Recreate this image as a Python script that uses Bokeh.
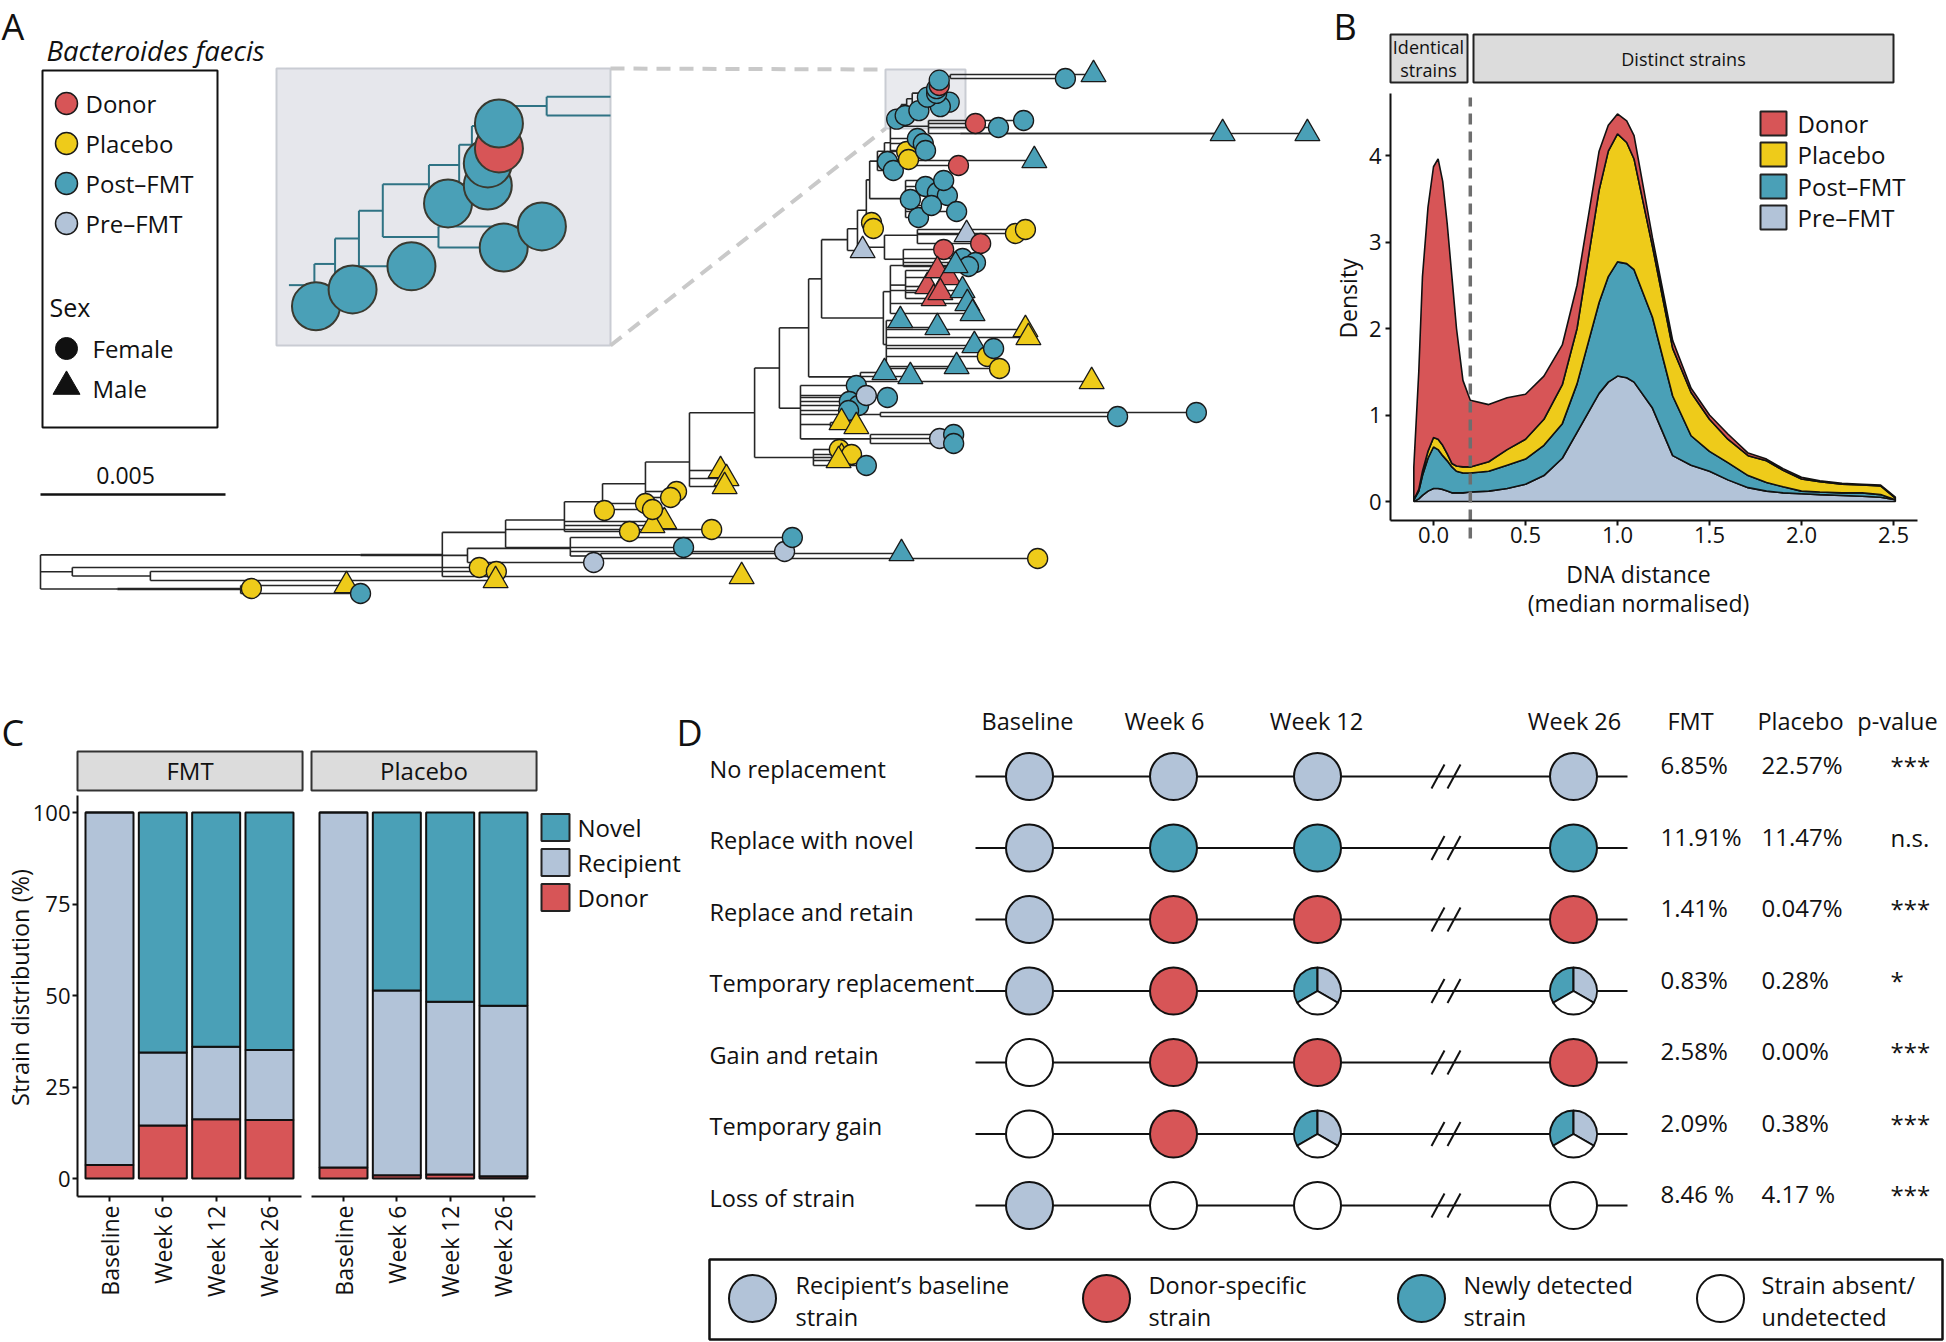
import math
import numpy as np
from bokeh.plotting import figure
from bokeh.layouts import row, column
from bokeh.models import Range1d, FixedTicker, PrintfTickFormatter, LinearAxis, ColumnDataSource
from bokeh.core.properties import value
from bokeh.embed import file_html
from bokeh.resources import INLINE

FONT = "Open Sans"
FV = value(FONT)
INK = "#111111"
C_DONOR, C_PLAC, C_POST, C_PRE = "#d75557", "#eecb1a", "#4aa0b7", "#b2c3d8"
GCOL = {"D": C_DONOR, "Y": C_PLAC, "T": C_POST, "P": C_PRE}

# ---------------- Panel A: phylogenetic tree of Bacteroides faecis strains ----------------
# internal nodes: distance from root (units of 1e-4) and parent index
int_dist = [0.0, 8.6, 29.7, 20.8, 54.1, 86.5, 115.4, 143.2, 151.4, 108.6,
            125.7, 141.6, 151.9, 163.5, 175.4, 193.0, 208.9, 199.7, 205.4, 227.0,
            224.3, 207.6, 221.6, 211.1, 218.1, 220.8, 223.2, 228.1, 237.0, 233.2,
            224.1, 233.8, 226.2, 228.1, 229.7, 240.0, 227.8, 229.7, 228.6, 231.3,
            232.6, 234.1, 235.6, 239.1, 238.5, 240.4, 241.2, 242.9, 245.9, 248.6,
            233.8, 213.5]
int_parent = [-1, 0, 1, 0, 3, 0, 5, 6, 7, 5,
              9, 10, 11, 12, 13, 14, 15, 15, 17, 18,
              18, 17, 21, 21, 23, 24, 25, 25, 27, 27,
              26, 30, 30, 32, 33, 34, 23, 36, 36, 34,
              39, 40, 41, 42, 42, 44, 45, 46, 47, 35,
              37, 18]
# tips: distance from root (1e-4), vertical layout position, parent node, group, sex
tip_dist = [118.6, 123.2, 123.0, 57.0, 82.7, 86.5, 149.5, 201.1, 203.2, 232.7,
            269.5, 189.5, 181.4, 173.8, 159.2, 168.6, 165.4, 152.4, 163.5, 165.4,
            171.9, 170.3, 183.8, 185.4, 184.9,
            215.9, 216.5, 219.2, 223.2, 215.7,
            220.5, 228.9, 218.6, 221.1, 218.4, 223.2,
            216.5, 220.5,
            291.1, 312.4,
            243.0, 246.8, 246.8,
            228.1, 235.1, 284.1,
            222.2,
            224.6, 225.1,
            250.3, 263.5, 266.2, 254.1,
            244.1, 249.2, 252.7, 250.8,
            237.3, 235.1, 239.2, 242.4, 245.1, 240.8, 247.6, 244.1,
            228.9, 230.5,
            234.1, 234.6,
            248.1, 268.6, 237.0, 238.6, 239.2,
            252.7, 258.9, 265.7,
            319.5, 342.4,
            231.4, 233.7, 237.4, 245.6, 243.2, 239.7, 242.2, 242.2, 242.9, 242.9,
            277.0, 284.6,
            239.7, 242.4, 245.4, 241.4, 243.2,
            247.3, 249.2, 250.5, 251.9,
            232.4, 242.4, 266.2, 267.0, 252.4, 247.6, 255.9, 259.2, 257.6]
tip_pos = [567, 571, 580, 588, 585, 593, 562, 551, 537, 553,
           558, 576, 529, 547, 531, 521, 525, 510, 503, 509,
           491, 497, 470, 478, 486,
           449, 457, 454, 465, 460,
           385, 397, 401, 405, 410, 395,
           422, 426,
           416, 412,
           438, 434, 443,
           372, 376, 381,
           250,
           222, 228,
           234, 233, 229, 243,
           249, 258, 262, 266,
           217, 199, 186, 192, 195, 205, 211, 180,
           161, 170,
           151, 159,
           165, 160, 138, 143, 150,
           123, 127, 120,
           133, 133,
           118.6, 115.0, 110.1, 101.6, 106.1, 96.7, 92.9, 88.2, 85.0, 79.7,
           78, 74,
           286, 270, 277, 298, 292,
           265, 290, 303, 313,
           320, 327, 329, 337, 345, 366, 356, 368, 348]
tip_parent = [1, 2, 2, 3, 4, 4, 6, 7, 7, 8,
              8, 9, 10, 10, 11, 11, 11, 12, 12, 12,
              13, 13, 14, 14, 14,
              16, 16, 16, 16, 16,
              18, 18, 18, 18, 18, 18,
              51, 51,
              19, 19,
              20, 20, 20,
              22, 22, 22,
              24,
              26, 26,
              28, 28, 28, 28,
              29, 29, 29, 29,
              31, 31, 31, 31, 31, 31, 31, 31,
              32, 32,
              33, 33,
              34, 34, 34, 34, 34,
              35, 35, 35,
              49, 49,
              39, 40, 41, 43, 43, 44, 45, 46, 47, 47,
              48, 48,
              50, 50, 50, 50, 50,
              37, 37, 37, 37,
              38, 38, 38, 38, 38, 38, 38, 38, 38]
tip_group = list("YYYYYTPPTT" "YYYTYYYYYY" "YYYYY" "YYYTY" "TTTTTP" "YY" "TT" "PTT" "TTY" "P"
                 "YY" "PYYD" "DTTT" "TTTTTTTT" "TT" "YY" "DTTTT" "DTT" "TT" "TTTTTTTTDT" "TT"
                 "DDDDD" "TTTT" "TTYYTTYYT")
tip_sex = list("FFMFMFFFFM" "FMFFFMMFFF" "FFMMM" "FMFFM" "FFFFFF" "MM" "FF" "FFF" "MMM" "M"
               "FF" "MFFF" "FFFF" "FFFFFFFF" "FF" "FF" "FMFFF" "FFF" "MM" "FFFFFFFFFF" "FM"
               "MMMMM" "MMMM" "MMMMMMFFF")
legend_groups = ["Donor", "Placebo", "Post\u2013FMT", "Pre\u2013FMT"]
scale_bar = 0.005

# ---------------- Panel B: density of DNA distance ----------------
dens_x = [-0.107, -0.08, -0.06, -0.03, 0.0, 0.025, 0.05, 0.075, 0.1, 0.125, 0.16, 0.2, 0.3, 0.4,
          0.5, 0.6, 0.7, 0.78, 0.9, 0.95, 1.0, 1.05, 1.09, 1.19, 1.3, 1.4, 1.5, 1.6, 1.71, 1.81,
          1.9, 2.0, 2.1, 2.22, 2.33, 2.43, 2.51]
dens_pre = [0.0, 0.03, 0.07, 0.12, 0.15, 0.15, 0.14, 0.12, 0.1, 0.1, 0.1, 0.11, 0.12, 0.15,
            0.2, 0.3, 0.5, 0.8, 1.25, 1.38, 1.45, 1.43, 1.38, 1.08, 0.53, 0.42, 0.35, 0.25, 0.16, 0.12,
            0.1, 0.09, 0.08, 0.07, 0.06, 0.05, 0.02]
dens_post = [0.02, 0.09, 0.23, 0.38, 0.48, 0.45, 0.39, 0.35, 0.3, 0.25, 0.23, 0.22, 0.23, 0.27,
             0.29, 0.35, 0.4, 0.56, 1.05, 1.22, 1.32, 1.32, 1.3, 1.05, 0.69, 0.34, 0.23, 0.2, 0.14, 0.1,
             0.07, 0.03, 0.03, 0.03, 0.04, 0.03, 0.0]
dens_plac = [0.0, 0.02, 0.05, 0.08, 0.11, 0.12, 0.12, 0.08, 0.04, 0.06, 0.07, 0.07, 0.11, 0.18,
             0.23, 0.3, 0.45, 0.64, 1.3, 1.45, 1.48, 1.4, 1.28, 0.82, 0.55, 0.5, 0.37, 0.27, 0.23, 0.25,
             0.19, 0.14, 0.12, 0.1, 0.09, 0.1, 0.02]
dens_donor = [0.38, 1.36, 2.25, 2.82, 3.13, 3.24, 3.05, 2.65, 2.16, 1.59, 1.0, 0.77, 0.66, 0.6,
              0.52, 0.5, 0.46, 0.5, 0.45, 0.3, 0.23, 0.25, 0.27, 0.1, 0.09, 0.05, 0.05, 0.06, 0.03, 0.02,
              0.02, 0.02, 0.01, 0.01, 0.01, 0.01, 0.01]
identity_threshold = 0.2
b_xticks = [0.0, 0.5, 1.0, 1.5, 2.0, 2.5]
b_yticks = [0, 1, 2, 3, 4]

# ---------------- Panel C: strain distribution ----------------
c_times = ["Baseline", "Week 6", "Week 12", "Week 26"]
fmt_donor = [3.7, 14.5, 16.2, 16.0]
fmt_recip = [96.3, 19.9, 19.8, 19.1]
fmt_novel = [0.0, 65.6, 64.0, 64.9]
pla_donor = [3.0, 0.9, 1.1, 0.6]
pla_recip = [97.0, 50.5, 47.2, 46.6]
pla_novel = [0.0, 48.6, 51.7, 52.8]
c_yticks = [0, 25, 50, 75, 100]

# ---------------- Panel D: strain trajectories ----------------
d_times = ["Baseline", "Week 6", "Week 12", "Week 26"]
d_rows = ["No replacement", "Replace with novel", "Replace and retain", "Temporary replacement",
          "Gain and retain", "Temporary gain", "Loss of strain"]
d_states = [["R", "R", "R", "R"], ["R", "N", "N", "N"], ["R", "D", "D", "D"], ["R", "D", "M", "M"],
            ["A", "D", "D", "D"], ["A", "D", "M", "M"], ["R", "A", "A", "A"]]
d_fmt = ["6.85%", "11.91%", "1.41%", "0.83%", "2.58%", "2.09%", "8.46 %"]
d_plac = ["22.57%", "11.47%", "0.047%", "0.28%", "0.00%", "0.38%", "4.17 %"]
d_pval = ["***", "n.s.", "***", "*", "***", "***", "***"]
d_legend = [("Recipient\u2019s baseline", "strain"), ("Donor-specific", "strain"),
            ("Newly detected", "strain"), ("Strain absent/", "undetected")]
SCOL = {"R": C_PRE, "D": C_DONOR, "N": C_POST, "A": "white"}


def base_fig(w, h, xr, yr):
    p = figure(width=w, height=h, x_range=xr, y_range=yr, toolbar_location=None,
               output_backend="svg", x_axis_location=None, y_axis_location=None,
               min_border_left=0, min_border_right=0, min_border_top=0, min_border_bottom=0)
    p.outline_line_color = None
    p.background_fill_color = "white"
    p.border_fill_color = "white"
    p.grid.visible = False
    try:
        p.frame_align = False
    except Exception:
        pass
    return p


def style_axis(ax, size="22px"):
    ax.axis_line_width = 2
    ax.axis_line_color = INK
    ax.major_tick_line_width = 2
    ax.major_tick_line_color = INK
    ax.major_tick_out = 5
    ax.major_tick_in = 0
    ax.minor_tick_line_color = None
    ax.major_label_text_font = FONT
    ax.major_label_text_font_size = size
    ax.major_label_text_color = INK


def mk_axis(fixed, bounds, ticks, size):
    ax = LinearAxis(fixed_location=fixed, bounds=bounds, ticker=FixedTicker(ticks=ticks))
    style_axis(ax, size)
    return ax


def txt(p, x, y, s, size="24px", align="left", baseline="middle", style="normal", color=INK, angle=0):
    p.text(x=x if isinstance(x, list) else [x], y=y if isinstance(y, list) else [y],
           text=s if isinstance(s, list) else [s], text_font=FV, text_font_size=size,
           text_align=align, text_baseline=baseline, text_font_style=style, text_color=color,
           angle=angle)


# =============================== Panel A ===============================
S = 37000.0  # px per unit of distance


def AX(px):
    return (px - 40) / S


pA = base_fig(1326, 690, Range1d(AX(0), AX(1326)), Range1d(690, 0))

n_int = len(int_dist)
ch_int = [[] for _ in range(n_int)]
ch_tip = [[] for _ in range(n_int)]
for i, par in enumerate(int_parent):
    if par >= 0:
        ch_int[par].append(i)
for j, par in enumerate(tip_parent):
    ch_tip[par].append(j)
node_y = [None] * n_int


def ny(i):
    if node_y[i] is None:
        ys = [ny(c) for c in ch_int[i]] + [tip_pos[t] for t in ch_tip[i]]
        node_y[i] = sum(ys) / len(ys)
    return node_y[i]


for i in range(n_int):
    ny(i)

SC = 1e-4
hx0, hx1, hy = [], [], []
for i, par in enumerate(int_parent):
    if par >= 0:
        hx0.append(int_dist[par] * SC); hx1.append(int_dist[i] * SC); hy.append(node_y[i])
for j, par in enumerate(tip_parent):
    hx0.append(int_dist[par] * SC); hx1.append(tip_dist[j] * SC); hy.append(tip_pos[j])
vx, vy0, vy1 = [], [], []
for i in range(n_int):
    ys = [node_y[c] for c in ch_int[i]] + [tip_pos[t] for t in ch_tip[i]]
    vx.append(int_dist[i] * SC); vy0.append(min(ys)); vy1.append(max(ys))

# inset (zoom of the boxed clade)
BOX = (276, 610, 68, 345)
ZB = (885, 965, 69, 128)


def to_px(d):
    return 40 + d * SC * S


def ins_x(px):
    return BOX[0] + (px - 887) * 4.3


def ins_y(y):
    return BOX[2] + (y - 68) * 4.7


pA.quad(left=AX(BOX[0]), right=AX(BOX[1]), top=BOX[2], bottom=BOX[3], fill_color="#e6e7ec",
        line_color="#c9ccd3", line_width=2)
pA.segment(x0=[AX(BOX[1]), AX(BOX[1])], y0=[BOX[2], BOX[3]], x1=[AX(ZB[0]), AX(ZB[0])],
           y1=[ZB[2], ZB[3]], line_color="#c9c9c9", line_width=4, line_dash="14 9")
pA.quad(left=AX(ZB[0]), right=AX(ZB[1]), top=ZB[2], bottom=ZB[3], fill_color="#e3e5ea",
        fill_alpha=0.8, line_color="#c9ccd3", line_width=2)


def desc(i):
    nn, tt = [i], list(ch_tip[i])
    for c in ch_int[i]:
        a, b = desc(c)
        nn += a
        tt += b
    return nn, tt


sub_n, sub_t = desc(39)
ix0, ix1, iy = [], [], []
ivx, ivy0, ivy1 = [], [], []


def add_h(x0, x1, y):
    x0, x1, y = ins_x(x0), ins_x(x1), ins_y(y)
    if BOX[2] <= y <= BOX[3]:
        a, b = max(x0, BOX[0]), min(x1, BOX[1])
        if b > a:
            ix0.append(AX(a)); ix1.append(AX(b)); iy.append(y)


for n in sub_n:
    add_h(to_px(int_dist[int_parent[n]]), to_px(int_dist[n]), node_y[n])
    ys = [node_y[c] for c in ch_int[n]] + [tip_pos[t] for t in ch_tip[n]]
    xx = ins_x(to_px(int_dist[n]))
    if BOX[0] <= xx <= BOX[1]:
        ivx.append(AX(xx)); ivy0.append(max(ins_y(min(ys)), BOX[2])); ivy1.append(min(ins_y(max(ys)), BOX[3]))
for t in sub_t:
    add_h(to_px(int_dist[tip_parent[t]]), to_px(tip_dist[t]), tip_pos[t])
pA.segment(x0=ix0, y0=iy, x1=ix1, y1=iy, line_color="#2f7384", line_width=2)
pA.segment(x0=ivx, y0=ivy0, x1=ivx, y1=ivy1, line_color="#2f7384", line_width=2)
itx, ity, itc = [], [], []
for t in sorted(sub_t, key=lambda k: -tip_pos[k]):
    xx, yy = ins_x(to_px(tip_dist[t])), ins_y(tip_pos[t])
    if BOX[0] + 20 <= xx <= BOX[1] - 20 and BOX[2] + 20 <= yy <= BOX[3] - 20:
        itx.append(AX(xx)); ity.append(yy); itc.append(GCOL[tip_group[t]])
pA.scatter(itx, ity, marker="circle", size=48, fill_color=itc, line_color="#3a3a30", line_width=2)

# main tree
pA.segment(x0=hx0, y0=hy, x1=hx1, y1=hy, line_color="#262626", line_width=1.6)
pA.segment(x0=vx, y0=vy0, x1=vx, y1=vy1, line_color="#262626", line_width=1.6)
tsrc = ColumnDataSource(dict(
    x=[d * SC for d in tip_dist], y=tip_pos,
    marker=["circle" if s == "F" else "triangle" for s in tip_sex],
    size=[20 if s == "F" else 25 for s in tip_sex],
    color=[GCOL[g] for g in tip_group]))
pA.scatter(x="x", y="y", marker="marker", size="size", fill_color="color", line_color="#1a1a1a",
           line_width=1.3, source=tsrc)

# legend A
txt(pA, AX(1), 1, "A", size="36px", baseline="top")
txt(pA, AX(46), 50, "Bacteroides faecis", size="27.5px", style="italic")
pA.quad(left=AX(42), right=AX(217), top=70, bottom=427, fill_color=None, line_color=INK, line_width=2)
leg_y = [103, 143, 183, 223]
pA.scatter([AX(66)] * 4, leg_y, marker="circle", size=22,
           fill_color=[C_DONOR, C_PLAC, C_POST, C_PRE], line_color="#1a1a1a", line_width=1.5)
txt(pA, [AX(85)] * 4, leg_y, legend_groups, size="24px")
txt(pA, AX(49), 306, "Sex", size="25px")
pA.scatter([AX(66), AX(66)], [348, 386], marker=["circle", "triangle"], size=[22, 27],
           fill_color=INK, line_color=INK)
txt(pA, [AX(92), AX(92)], [348, 388], ["Female", "Male"], size="24px")
pA.segment(x0=[0.0], y0=[494], x1=[scale_bar], y1=[494], line_color=INK, line_width=2.5)
txt(pA, scale_bar * 0.46, 475, "0.005", size="23px", align="center")

# =============================== Panel B ===============================
B0, BPX, BY0, BPY = 1433, 184.0, 501, 86.5   # data origin and scale of panel B in the page


def bxd(px):
    return (px - B0) / BPX


def byd(py):
    return (BY0 - py) / BPY


pB = base_fig(620, 690, Range1d(bxd(1326), bxd(1946)), Range1d(byd(690), byd(0)))
fx0, fx1, fy0, fy1 = bxd(1390), bxd(1917), byd(520), byd(93)   # panel frame
base = np.zeros(len(dens_x))
xs = np.array(dens_x)
for dens, col in [(dens_pre, C_PRE), (dens_post, C_POST), (dens_plac, C_PLAC), (dens_donor, C_DONOR)]:
    top = base + np.array(dens)
    pB.patch(np.concatenate([xs, xs[::-1]]), np.concatenate([top, base[::-1]]),
             fill_color=col, line_color=INK, line_width=1.6)
    base = top
pB.segment(x0=[identity_threshold], y0=[byd(538)], x1=[identity_threshold], y1=[byd(97)],
           line_color="#6e6e6e", line_width=3.5, line_dash="11 7")
# strips
pB.quad(left=[fx0, bxd(1473)], right=[bxd(1467), bxd(1893)], top=[byd(34)] * 2, bottom=[byd(82)] * 2,
        fill_color="#dcdcdc", line_color="#222222", line_width=2)
txt(pB, [bxd(1428)] * 2, [byd(46), byd(69)], ["Identical", "strains"], size="18px", align="center")
txt(pB, bxd(1683), byd(58), "Distinct strains", size="18px", align="center")
# legend
leg_by = [byd(v) for v in (123, 154, 186, 217)]
hh = 12 / BPY
pB.quad(left=[bxd(1760)] * 4, right=[bxd(1786)] * 4, top=[v + hh for v in leg_by],
        bottom=[v - hh for v in leg_by], fill_color=[C_DONOR, C_PLAC, C_POST, C_PRE],
        line_color="#222222", line_width=2)
txt(pB, [bxd(1797)] * 4, leg_by, legend_groups, size="24px")
axb = mk_axis(fy0, (fx0, fx1), b_xticks, "22px")
axb.formatter = PrintfTickFormatter(format="%.1f")
axb.major_label_standoff = 1
pB.add_layout(axb, "below")
ayb = mk_axis(fx0, (fy0, fy1), b_yticks, "22px")
ayb.major_label_standoff = 4
pB.add_layout(ayb, "left")
txt(pB, bxd(1347), byd(298), "Density", size="23px", align="center", angle=math.pi / 2)
txt(pB, bxd(1638), byd(573), "DNA distance", size="23px", align="center")
txt(pB, bxd(1638), byd(602), "(median normalised)", size="23px", align="center")
txt(pB, bxd(1333), byd(1), "B", size="36px", baseline="top")

# =============================== Panel C ===============================
CPX, CY0, CPY = 53.33, 1178, 3.66


def cyd(py):
    return (CY0 - py) / CPY


def c_panel(x_left, x_right, bar1_px, donor, recip, novel, strip, with_y):
    def cxd(px):
        return 1 + (px - bar1_px) / CPX
    p = base_fig(x_right - x_left, 652, Range1d(cxd(x_left), cxd(x_right)), Range1d(cyd(1342), cyd(690)))
    xs_ = [1, 2, 3, 4]
    d = np.array(donor); r = np.array(recip); n = np.array(novel)
    p.vbar(x=xs_, width=0.9, bottom=0, top=d, fill_color=C_DONOR, line_color=INK, line_width=2)
    p.vbar(x=xs_, width=0.9, bottom=d, top=d + r, fill_color=C_PRE, line_color=INK, line_width=2)
    p.vbar(x=xs_, width=0.9, bottom=d + r, top=d + r + n, fill_color=C_POST, line_color=INK, line_width=2)
    p.quad(left=[0.4], right=[4.62], top=[cyd(751)], bottom=[cyd(790)], fill_color="#dcdcdc",
           line_color="#333333", line_width=2)
    txt(p, 2.51, cyd(770), strip, size="24px", align="center")
    ax = mk_axis(cyd(1196), (0.4, 4.6), xs_, "23px")
    ax.major_label_overrides = {i + 1: t for i, t in enumerate(c_times)}
    ax.major_label_orientation = math.pi / 2
    ax.major_label_standoff = 4
    p.add_layout(ax, "below")
    if with_y:
        ay = mk_axis(0.4, (cyd(1196), cyd(795)), c_yticks, "22px")
        ay.major_label_standoff = 2
        p.add_layout(ay, "left")
    return p, cxd


pC1, cx1 = c_panel(0, 306, 109, fmt_donor, fmt_recip, fmt_novel, "FMT", True)
pC2, cx2 = c_panel(306, 706, 343, pla_donor, pla_recip, pla_novel, "Placebo", False)
leg_cy = [cyd(v) for v in (827, 862, 897)]
hc = 13.5 / CPY
pC2.quad(left=[cx2(541)] * 3, right=[cx2(569)] * 3, top=[v + hc for v in leg_cy],
         bottom=[v - hc for v in leg_cy], fill_color=[C_POST, C_PRE, C_DONOR], line_color="#222222",
         line_width=2)
txt(pC2, [cx2(577)] * 3, leg_cy, ["Novel", "Recipient", "Donor"], size="24px")
txt(pC1, cx1(1), cyd(707), "C", size="36px", baseline="top")
txt(pC1, cx1(19), cyd(987), "Strain distribution (%)", size="23.5px", align="center", angle=math.pi / 2)
txt(pC2, cx2(676), cyd(707), "D", size="36px", baseline="top")

# =============================== Panel D ===============================
pD = base_fig(1240, 652, Range1d(706, 1946), Range1d(1342, 690))
COLX = [1029, 1173, 1317, 1573]
ROW0, DY, RAD = 776, 71.5, 23.5
row_y = [ROW0 + i * DY for i in range(len(d_rows))]
txt(pD, [1027, 1164, 1316, 1574, 1690, 1800, 1897], [720] * 7,
    d_times + ["FMT", "Placebo", "p-value"], size="23.5px", align="center")
txt(pD, [709] * len(d_rows), [y - 8 for y in row_y], d_rows, size="23.5px")
pD.segment(x0=[975] * 7, y0=row_y, x1=[1627] * 7, y1=row_y, line_color=INK, line_width=2)
sl_x0, sl_y0, sl_x1, sl_y1 = [], [], [], []
for y in row_y:
    for off in (0, 16):
        sl_x0.append(1431 + off); sl_y0.append(y + 12); sl_x1.append(1444 + off); sl_y1.append(y - 12)
pD.segment(x0=sl_x0, y0=sl_y0, x1=sl_x1, y1=sl_y1, line_color=INK, line_width=2)
cx, cyy, cc = [], [], []
wx, wy, ws, we, wc = [], [], [], [], []
for i, st in enumerate(d_states):
    for j, s in enumerate(st):
        if s == "M":
            for a0, a1, col in [(90, 210, C_POST), (-30, 90, C_PRE), (210, 330, "white")]:
                wx.append(COLX[j]); wy.append(row_y[i]); ws.append(math.radians(a0))
                we.append(math.radians(a1)); wc.append(col)
        else:
            cx.append(COLX[j]); cyy.append(row_y[i]); cc.append(SCOL[s])
pD.scatter(cx, cyy, marker="circle", size=2 * RAD, fill_color=cc, line_color=INK, line_width=2)
pD.wedge(x=wx, y=wy, radius=RAD, start_angle=ws, end_angle=we, fill_color=wc, line_color=INK,
         line_width=2)
txt(pD, [1660] * 7, [y - 12 for y in row_y], d_fmt, size="24px")
txt(pD, [1761] * 7, [y - 12 for y in row_y], d_plac, size="24px")
txt(pD, [1890] * 7, [y - 11 for y in row_y], d_pval, size="24px")
pD.quad(left=[709], right=[1942], top=[1259], bottom=[1339], fill_color=None, line_color=INK,
        line_width=2.5)
lgx = [752, 1106, 1421, 1720]
pD.scatter(lgx, [1298] * 4, marker="circle", size=2 * RAD, fill_color=[C_PRE, C_DONOR, C_POST, "white"],
           line_color=INK, line_width=2)
ltx = [795, 1148, 1463, 1761]
txt(pD, ltx, [1284] * 4, [a for a, b in d_legend], size="23.5px")
txt(pD, ltx, [1316] * 4, [b for a, b in d_legend], size="23.5px")

layout = column(row(pA, pB), row(pC1, pC2, pD))
open("out.html", "w").write(file_html(layout, INLINE))
